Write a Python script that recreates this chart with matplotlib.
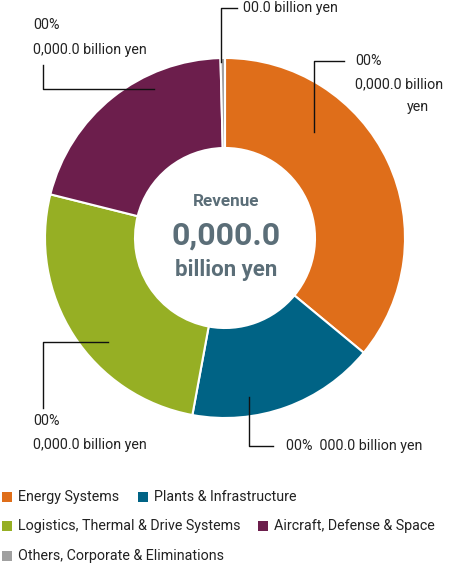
import matplotlib
matplotlib.use("Agg")
import matplotlib.pyplot as plt
from matplotlib.patches import Rectangle

# ---- data ----
categories = ["Energy Systems", "Plants & Infrastructure",
              "Logistics, Thermal & Drive Systems", "Aircraft, Defense & Space",
              "Others, Corporate & Eliminations"]
shares = [36.0, 16.9, 26.0, 20.7, 0.4]
colors = ["#DF6E1A", "#006385", "#96AF24", "#6C1E4C", "#A0A0A0"]
center_title = "Revenue"
center_value = "0,000.0"
center_unit = "billion yen"
callout_texts = {
    "Energy Systems": "00%\n0,000.0 billion\nyen",
    "Plants & Infrastructure": "00%  000.0 billion yen",
    "Logistics, Thermal & Drive Systems": "00%\n0,000.0 billion yen",
    "Aircraft, Defense & Space": "00%\n0,000.0 billion yen",
    "Others, Corporate & Eliminations": "00.0 billion yen",
}

plt.rcParams['font.family'] = ['Roboto', 'DejaVu Sans']
W, H = 450, 566
fig = plt.figure(figsize=(W / 100, H / 100), dpi=100)

# pie axes: centre (225, 238), radius 180 px
cx, cy, r = 225, 238, 180
ax = fig.add_axes([(cx - r) / W, (H - (cy + r)) / H, 2 * r / W, 2 * r / H])
ax.pie(shares, colors=colors, startangle=90, counterclock=False, radius=1.0,
       wedgeprops=dict(width=0.5, edgecolor="white", linewidth=1.5))
ax.set_xlim(-1, 1)
ax.set_ylim(-1, 1)
ax.set_aspect("equal")
ax.axis("off")

# overlay in pixel coordinates
ov = fig.add_axes([0, 0, 1, 1], zorder=5)
ov.set_xlim(0, W)
ov.set_ylim(H, 0)
ov.axis("off")
ov.patch.set_alpha(0)

tc = "#5B6E78"
ov.text(cx + 1, 202, center_title, ha="center", va="center", fontsize=12.3,
        fontweight="bold", color=tc)
ov.text(cx + 1, 236, center_value, ha="center", va="center", fontsize=23,
        fontweight="bold", color=tc)
ov.text(cx + 1, 270, center_unit, ha="center", va="center", fontsize=16,
        fontweight="bold", color=tc)

lc = "#111111"
lw = 1.0
fs = 10.3
txtc = "#222222"
# Others
ov.plot([221, 221, 237], [62, 8, 8], color=lc, lw=lw)
ov.text(243, 8, callout_texts[categories[4]], ha="left", va="center", fontsize=fs, color=txtc)
# Energy
ov.plot([314, 314, 344], [132, 61, 61], color=lc, lw=lw)
ov.text(355, 61, "00%", ha="left", va="center", fontsize=fs, color=txtc)
ov.text(355, 84, "0,000.0 billion", ha="left", va="center", fontsize=fs, color=txtc)
ov.text(429, 107, "yen", ha="right", va="center", fontsize=fs, color=txtc)
# Aircraft
ov.plot([43, 43, 154], [65, 89, 89], color=lc, lw=lw)
ov.text(33, 25, "00%", ha="left", va="center", fontsize=fs, color=txtc)
ov.text(33, 50, "0,000.0 billion yen", ha="left", va="center", fontsize=fs, color=txtc)
# Logistics
ov.plot([108, 43, 43], [342, 342, 408], color=lc, lw=lw)
ov.text(33, 421, "00%", ha="left", va="center", fontsize=fs, color=txtc)
ov.text(33, 445, "0,000.0 billion yen", ha="left", va="center", fontsize=fs, color=txtc)
# Plants
ov.plot([249, 249, 273], [397, 446, 446], color=lc, lw=lw)
ov.text(286, 446, callout_texts[categories[1]], ha="left", va="center", fontsize=fs, color=txtc)

# legend (manual layout)
leg_pos = [(2, 497), (138, 497), (2, 526), (258, 526), (2, 556)]
for (x, y), name, col in zip(leg_pos, categories, colors):
    ov.add_patch(Rectangle((x, y - 5), 10, 10, color=col, lw=0))
    ov.text(x + 16, y, name, ha="left", va="center", fontsize=fs, color=txtc)

fig.savefig("out.png", dpi=100)
